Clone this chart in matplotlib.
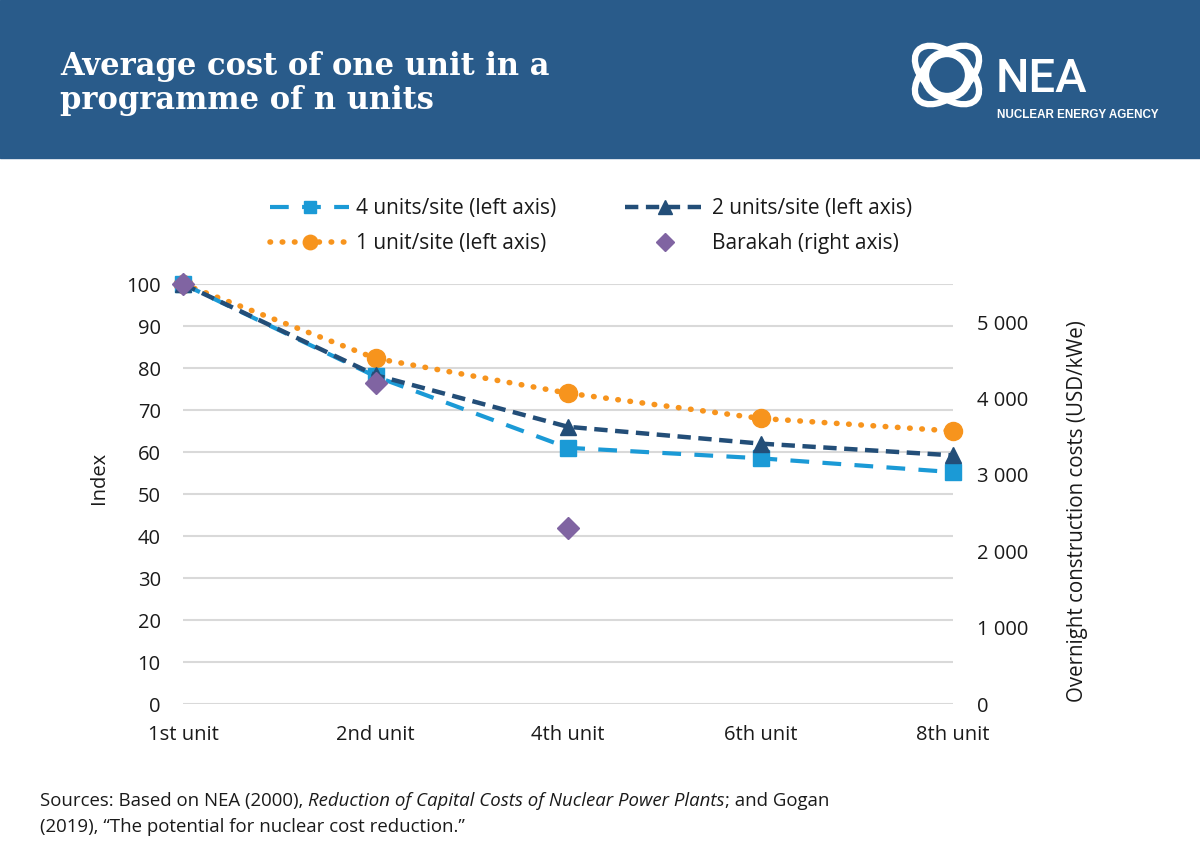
import matplotlib
matplotlib.use("Agg")
import matplotlib.pyplot as plt
from matplotlib.patches import Rectangle, Ellipse

categories = ["1st unit", "2nd unit", "4th unit", "6th unit", "8th unit"]
four_units = [100, 78, 61, 58.5, 55.2]
two_units = [100, 78.3, 66, 62, 59.2]
one_unit = [100, 82.3, 74, 68, 65]
barakah = [5500, 4200, 2300]
barakah_cats = ["1st unit", "2nd unit", "4th unit"]
left_ticks = list(range(0, 101, 10))
right_ticks = [0, 1000, 2000, 3000, 4000, 5000]
right_labels = ["0", "1 000", "2 000", "3 000", "4 000", "5 000"]

FONT = "Open Sans"
FS = 14.5
TXT = "#1a1a1a"
W, H = 1200, 857
fig = plt.figure(figsize=(12, 8.57), dpi=100)

# header band
fig.patches.append(Rectangle((0, 1 - 158 / H), 1, 158 / H, transform=fig.transFigure,
                             color="#295b8a", zorder=-5))
fig.text(60 / W, 1 - 75 / H, "Average cost of one unit in a", family="DejaVu Serif",
         weight="bold", color="white", fontsize=22, va="baseline")
fig.text(60 / W, 1 - 109 / H, "programme of n units", family="DejaVu Serif",
         weight="bold", color="white", fontsize=22, va="baseline")
fig.text(996 / W, 1 - 92 / H, "NEA", family="Roboto", weight="medium", color="white",
         fontsize=34, va="baseline")
fig.text(997 / W, 1 - 118 / H, "NUCLEAR ENERGY AGENCY", family="Liberation Sans",
         weight="bold", color="white", fontsize=8.4, va="baseline")
lax = fig.add_axes([906 / W, 1 - 114 / H, 82 / W, 78 / H], zorder=5)
lax.set_xlim(-41, 41)
lax.set_ylim(-39, 39)
lax.axis("off")
lax.add_patch(Ellipse((0, 0), 44, 44, fill=False, ec="white", lw=6))
for ang in (40, 140):
    lax.add_patch(Ellipse((0, 0), 76, 42, angle=ang, fill=False, ec="white", lw=4.5))

# main axes
ax = fig.add_axes([183 / W, 1 - 704 / H, 770 / W, 420 / H])
x = list(range(len(categories)))
pos = {c: i for i, c in enumerate(categories)}

ax.plot(x, four_units, color="#1b9ad6", lw=3, linestyle=(0, (4.5, 3.2)),
        marker="s", ms=11, clip_on=False, zorder=3, label="4 units/site (left axis)")
ax.plot(x, two_units, color="#234e78", lw=3.2, linestyle=(0, (3, 1.7)),
        marker="^", ms=12, clip_on=False, zorder=4, label="2 units/site (left axis)")
ax.plot(x, one_unit, color="#f7941d", lw=4, linestyle=(0, (0.1, 2.1)),
        dash_capstyle="round", marker="o", ms=13, clip_on=False, zorder=2,
        label="1 unit/site (left axis)")

ax.set_xlim(0, 4)
ax.set_ylim(0, 100)
ax.set_yticks(left_ticks)
ax.set_xticks(x)
ax.set_xticklabels(categories)
ax.grid(axis="y", color="#d9d9d9", lw=1.5)
ax.set_axisbelow(True)
for s in ax.spines.values():
    s.set_visible(False)
ax.tick_params(axis="both", length=0, labelsize=FS, colors=TXT)
ax.tick_params(axis="y", pad=16)
ax.tick_params(axis="x", pad=15)
for lab in ax.get_xticklabels() + ax.get_yticklabels():
    lab.set_family(FONT)
ax.set_ylabel("Index", family=FONT, fontsize=FS, color=TXT)
ax.yaxis.set_label_coords(-74 / 770, (704 - 478) / 420)

ax2 = ax.twinx()
ax2.plot([pos[c] for c in barakah_cats], barakah, linestyle="none", marker="D",
         ms=11, color="#8064a2", clip_on=False, zorder=5, label="Barakah (right axis)")
ax2.set_ylim(0, 5500)
ax2.set_yticks(right_ticks)
ax2.set_yticklabels(right_labels)
for s in ax2.spines.values():
    s.set_visible(False)
ax2.tick_params(axis="y", length=0, labelsize=FS, pad=17, colors=TXT)
for lab in ax2.get_yticklabels():
    lab.set_family(FONT)
ax2.set_ylabel("Overnight construction costs (USD/kWe)", family=FONT, fontsize=FS + 0.3,
               color=TXT)
ax2.yaxis.set_label_coords((1067 - 183) / 770, (704 - 511) / 420)

h1, l1 = ax.get_legend_handles_labels()
h2, l2 = ax2.get_legend_handles_labels()
hd = dict(zip(l1 + l2, h1 + h2))
order = ["4 units/site (left axis)", "1 unit/site (left axis)",
         "2 units/site (left axis)", "Barakah (right axis)"]
leg = fig.legend([hd[k] for k in order], order, ncol=2, loc="center",
                 bbox_to_anchor=(591 / W, 1 - 226 / H), frameon=False,
                 prop={"family": FONT, "size": FS + 0.5}, handlelength=3.8,
                 columnspacing=3.3, labelspacing=0.68, handletextpad=0.35,
                 numpoints=1, markerscale=0.8, labelcolor=TXT)

# sources
fig.canvas.draw()
r = fig.canvas.get_renderer()
def seq(parts, xpx, ypx):
    xx = xpx
    for txt, style in parts:
        t = fig.text(xx / W, 1 - ypx / H, txt, family=FONT, style=style, fontsize=13.4,
                     color=TXT, va="baseline")
        bb = t.get_window_extent(renderer=r)
        xx += bb.width
seq([("Sources: Based on NEA (2000), ", "normal"),
     ("Reduction of Capital Costs of Nuclear Power Plants", "italic"),
     ("; and Gogan", "normal")], 40, 806)
seq([("(2019), \u201cThe potential for nuclear cost reduction.\u201d", "normal")], 40, 832)

fig.savefig("out.png", dpi=100)
